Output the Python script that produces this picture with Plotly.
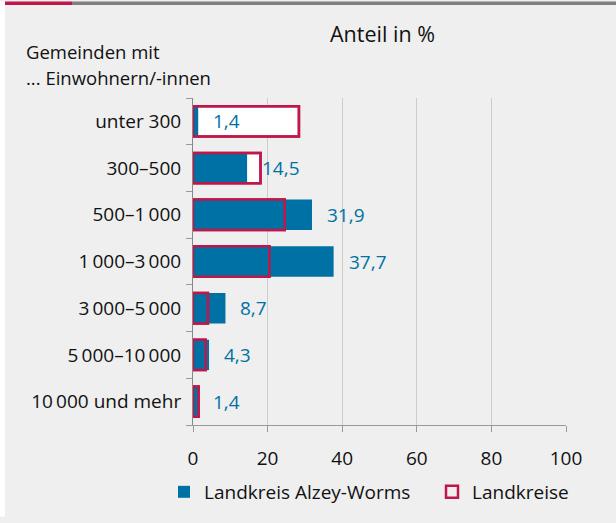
import plotly.graph_objects as go

categories = ["unter 300", "300–500", "500–1\u2009000", "1\u2009000–3\u2009000",
              "3\u2009000–5\u2009000", "5\u2009000–10\u2009000", "10\u2009000 und mehr"]
alzey_worms = [1.4, 14.5, 31.9, 37.7, 8.7, 4.3, 1.4]
landkreise = [28.4, 18.1, 24.6, 20.5, 4.0, 3.4, 1.5]
x_ticks = [0, 20, 40, 60, 80, 100]

BLUE = "#0071a4"
RED = "#c0174a"
BG = "#eeefee"
FONT = "Open Sans"
FS = 19

fig = go.Figure()
# white-filled Landkreise boxes (background)
fig.add_trace(go.Bar(y=categories, x=landkreise, orientation="h", name="Landkreise",
                     marker=dict(color="white", line=dict(color=RED, width=2.5)),
                     width=0.65, showlegend=False, hoverinfo="skip"))
fig.add_trace(go.Bar(y=categories, x=alzey_worms, orientation="h", name="Landkreis Alzey-Worms",
                     marker=dict(color=BLUE, line=dict(width=0)), width=0.65, legend="legend"))
fig.add_trace(go.Bar(y=categories, x=landkreise, orientation="h", name="Landkreise",
                     marker=dict(color="rgba(0,0,0,0)", line=dict(color=RED, width=2.5)),
                     width=0.65, legend="legend2"))

for c, v in zip(categories, alzey_worms):
    fig.add_annotation(x=v, y=c, text=f"{v:.1f}".replace(".", ","), showarrow=False,
                       xanchor="left", xshift=13, font=dict(color=BLUE, size=FS, family=FONT))

L, R, T, B = 193, 50, 98, 93
W, H = 616, 523
pw, ph = W - L - R, H - T - B
def px(x):
    return (x - L) / pw
def py(y):
    return (H - B - y) / ph

shapes = [
    dict(type="rect", xref="paper", yref="paper", x0=px(0), x1=px(5), y0=py(H), y1=py(0),
         fillcolor="white", line=dict(width=0), layer="below"),
    dict(type="rect", xref="paper", yref="paper", x0=px(5), x1=px(72), y0=py(3.5), y1=py(0),
         fillcolor=RED, line=dict(width=0)),
    dict(type="rect", xref="paper", yref="paper", x0=px(72), x1=px(W), y0=py(3.5), y1=py(0),
         fillcolor="#808080", line=dict(width=0)),
]

fig.add_annotation(xref="paper", yref="paper", x=px(382), y=py(33), text="Anteil in %",
                   showarrow=False, xanchor="center", yanchor="middle",
                   font=dict(size=21.5, color="#111", family=FONT))
fig.add_annotation(xref="paper", yref="paper", x=px(24), y=py(51), text="Gemeinden mit",
                   showarrow=False, xanchor="left", yanchor="middle",
                   font=dict(size=18.5, color="#111", family=FONT))
fig.add_annotation(xref="paper", yref="paper", x=px(24), y=py(77), text="... Einwohnern/-innen",
                   showarrow=False, xanchor="left", yanchor="middle",
                   font=dict(size=18.5, color="#111", family=FONT))

leg_common = dict(orientation="h", yanchor="middle", xanchor="left",
                  font=dict(size=FS, family=FONT, color="#111"),
                  bgcolor="rgba(0,0,0,0)", borderwidth=0)

fig.update_layout(
    width=W, height=H, margin=dict(l=L, r=R, t=T, b=B),
    paper_bgcolor=BG, plot_bgcolor=BG, barmode="overlay",
    font=dict(family=FONT, size=FS, color="#111"),
    shapes=shapes,
    showlegend=True,
    legend=dict(x=px(164), y=py(498), **leg_common),
    legend2=dict(x=px(432), y=py(498), **leg_common),
    xaxis=dict(range=[0, 100], tickvals=x_ticks, showgrid=True, gridcolor="#cccccc",
               gridwidth=1, ticks="outside", ticklen=6, tickcolor="#999", showline=True,
               linecolor="#999", zeroline=False, tickfont=dict(size=FS),
               ticklabelstandoff=10),
    yaxis=dict(categoryorder="array", categoryarray=categories[::-1], autorange=False,
               range=[-0.5, 6.5], ticks="outside", tickson="boundaries", ticklen=6,
               tickcolor="#999", showline=True, linecolor="#888", showgrid=False,
               tickfont=dict(size=FS), ticklabelstandoff=7),
)

fig.write_html("out.html", config={"displayModeBar": False},
               post_script="document.body.style.margin='0px';")
